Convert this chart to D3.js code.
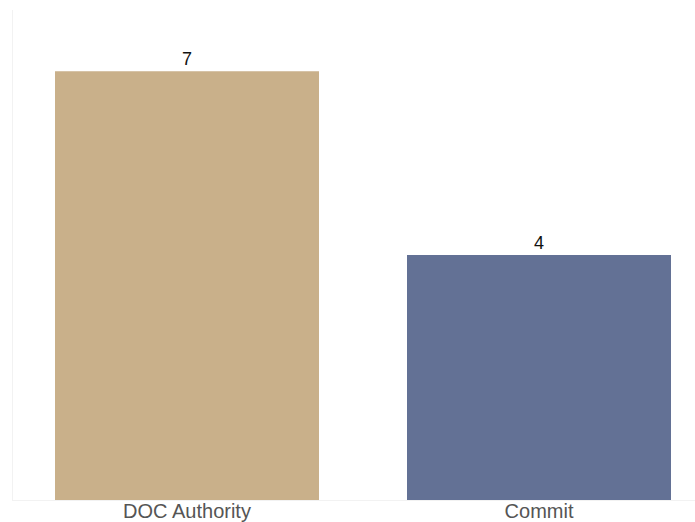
<!DOCTYPE html>
<html>
<head>
<meta charset="utf-8">
<script src="https://cdn.jsdelivr.net/npm/d3@7"></script>
<style>
body { margin: 0; background: #fff; }
svg { display: block; }
</style>
</head>
<body>
<script>
// data
var categories = ["DOC Authority", "Commit"];
var values = [7, 4];
var colors = ["#C9B08A", "#637195"];

var W = 695, H = 522;
var svg = d3.select("body").append("svg")
	.attr("width", W)
	.attr("height", H)
	.style("font-family", "Arial, 'Liberation Sans', sans-serif");

var x = d3.scaleBand()
	.domain(categories)
	.range([11, 715])
	.paddingInner(0.25)
	.paddingOuter(0.125);

var y = d3.scaleLinear()
	.domain([0, 8])
	.range([500, 10]);

// faint frame lines
svg.append("line")
	.attr("x1", 12.5).attr("x2", 12.5)
	.attr("y1", 10).attr("y2", 500)
	.attr("stroke", "#f2f2f2");
svg.append("line")
	.attr("x1", 12).attr("x2", W)
	.attr("y1", 500.5).attr("y2", 500.5)
	.attr("stroke", "#f2f2f2");

svg.selectAll("rect.bar")
	.data(values)
	.enter().append("rect")
	.attr("class", "bar")
	.attr("x", function(d, i){ return x(categories[i]); })
	.attr("width", x.bandwidth())
	.attr("y", function(d){ return y(d); })
	.attr("height", function(d){ return y(0) - y(d); })
	.attr("fill", function(d, i){ return colors[i]; });

// value labels
svg.selectAll("text.val")
	.data(values)
	.enter().append("text")
	.attr("class", "val")
	.attr("x", function(d, i){ return x(categories[i]) + x.bandwidth()/2; })
	.attr("y", function(d){ return y(d) - 6; })
	.attr("text-anchor", "middle")
	.attr("font-size", 18)
	.attr("fill", "#111")
	.text(function(d){ return d; });

// category labels
var xAxis = svg.append("g")
	.attr("transform", "translate(0," + 500 + ")")
	.call(d3.axisBottom(x).tickSize(0).tickPadding(4));
xAxis.select(".domain").remove();
xAxis.selectAll("text")
	.attr("font-size", 20)
	.attr("font-family", "Arial, 'Liberation Sans', sans-serif")
	.attr("fill", "#555");
</script>
</body>
</html>
